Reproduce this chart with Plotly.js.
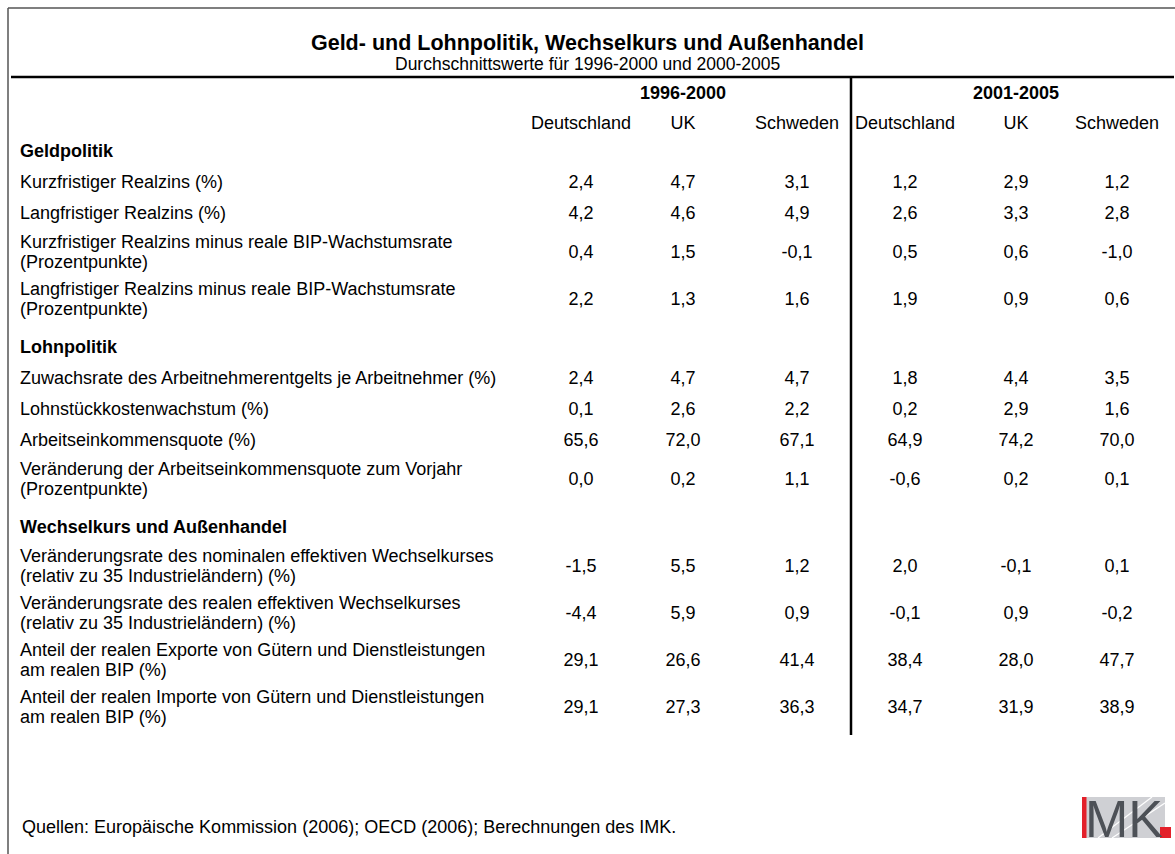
<!DOCTYPE html>
<html>
<head>
<meta charset="utf-8">
<script src="https://cdn.plot.ly/plotly-3.0.1.min.js"></script>
<style>
  html, body { margin: 0; padding: 0; background: #ffffff; }
  #chart { width: 1175px; height: 854px; }
</style>
</head>
<body>
<div id="chart"></div>
<script>
// ---------------- DATA ----------------
const titleText = 'Geld- und Lohnpolitik, Wechselkurs und Außenhandel';
const subtitleText = 'Durchschnittswerte für 1996-2000 und 2000-2005';
const sourceText = 'Quellen: Europäische Kommission (2006); OECD (2006); Berechnungen des IMK.';
const periods = ['1996-2000', '2001-2005'];
const countries = ['Deutschland', 'UK', 'Schweden'];

const rowLabels = [
  'Geldpolitik',
  'Kurzfristiger Realzins (%)',
  'Langfristiger Realzins (%)',
  'Kurzfristiger Realzins minus reale BIP-Wachstumsrate<br>(Prozentpunkte)',
  'Langfristiger Realzins minus reale BIP-Wachstumsrate<br>(Prozentpunkte)',
  'Lohnpolitik',
  'Zuwachsrate des Arbeitnehmerentgelts je Arbeitnehmer (%)',
  'Lohnstückkostenwachstum (%)',
  'Arbeitseinkommensquote (%)',
  'Veränderung der Arbeitseinkommensquote zum Vorjahr<br>(Prozentpunkte)',
  'Wechselkurs und Außenhandel',
  'Veränderungsrate des nominalen effektiven Wechselkurses<br>(relativ zu 35 Industrieländern) (%)',
  'Veränderungsrate des realen effektiven Wechselkurses<br>(relativ zu 35 Industrieländern) (%)',
  'Anteil der realen Exporte von Gütern und Dienstleistungen<br>am realen BIP (%)',
  'Anteil der realen Importe von Gütern und Dienstleistungen<br>am realen BIP (%)'
];

const de1996 = [null, 2.4, 4.2, 0.4, 2.2, null, 2.4, 0.1, 65.6, 0.0, null, -1.5, -4.4, 29.1, 29.1];
const uk1996 = [null, 4.7, 4.6, 1.5, 1.3, null, 4.7, 2.6, 72.0, 0.2, null, 5.5, 5.9, 26.6, 27.3];
const se1996 = [null, 3.1, 4.9, -0.1, 1.6, null, 4.7, 2.2, 67.1, 1.1, null, 1.2, 0.9, 41.4, 36.3];
const de2001 = [null, 1.2, 2.6, 0.5, 1.9, null, 1.8, 0.2, 64.9, -0.6, null, 2.0, -0.1, 38.4, 34.7];
const uk2001 = [null, 2.9, 3.3, 0.6, 0.9, null, 4.4, 2.9, 74.2, 0.2, null, -0.1, 0.9, 28.0, 31.9];
const se2001 = [null, 1.2, 2.8, -1.0, 0.6, null, 3.5, 1.6, 70.0, 0.1, null, 0.1, -0.2, 47.7, 38.9];

// ---------------- LAYOUT CONFIG ----------------
const W = 1175, H = 854;
const FONT = 'Liberation Sans, Arial, Helvetica, sans-serif';
const BODY = 18;
const yOff = 2.5;              // baseline correction for Plotly text
const lineGap = 19.5;          // spacing of two-line labels
const labelX = 20;
const colX = [581, 683, 797, 905, 1016, 1117];
const periodX = [683, 1016];
const periodY = 94, countryY = 124.5;
const firstTop = 134.5, singleH = 31, doubleH = 47, sectionGap = 9;

const isSection = de1996.map(v => v === null);
const rowY = [];
let rowTop = firstTop;
rowLabels.forEach((lab, i) => {
  if (isSection[i] && i > 0) rowTop += sectionGap;
  const h = lab.includes('<br>') ? doubleH : singleH;
  rowY.push(rowTop + h / 2 + yOff);
  rowTop += h;
});

const fmt = v => (v === null ? '' : v.toFixed(1).replace('.', ','));

// split labels into individual lines
const lblX = [], lblY = [], lblT = [];
const secX = [], secY = [], secT = [];
rowLabels.forEach((lab, i) => {
  if (isSection[i]) { secX.push(labelX); secY.push(rowY[i]); secT.push(lab); return; }
  const parts = lab.split('<br>');
  parts.forEach((p, k) => {
    lblX.push(labelX);
    lblY.push(rowY[i] + (k - (parts.length - 1) / 2) * lineGap);
    lblT.push(p);
  });
});

const traces = [];
traces.push({
  type: 'scatter', mode: 'text', hoverinfo: 'skip', showlegend: false,
  x: lblX, y: lblY, text: lblT, textposition: 'middle right',
  textfont: {family: FONT, size: BODY, color: '#000'}
});
traces.push({
  type: 'scatter', mode: 'text', hoverinfo: 'skip', showlegend: false,
  x: secX, y: secY, text: secT, textposition: 'middle right',
  textfont: {family: FONT, size: BODY, color: '#000', weight: 'bold'}
});
[de1996, uk1996, se1996, de2001, uk2001, se2001].forEach((arr, c) => {
  traces.push({
    type: 'scatter', mode: 'text', hoverinfo: 'skip', showlegend: false,
    x: arr.map(v => v === null ? null : colX[c]),
    y: rowY,
    text: arr.map(fmt),
    textposition: 'middle center',
    textfont: {family: FONT, size: BODY, color: '#000'}
  });
});
traces.push({
  type: 'scatter', mode: 'text', hoverinfo: 'skip', showlegend: false,
  x: periodX, y: periods.map(() => periodY), text: periods,
  textposition: 'middle center',
  textfont: {family: FONT, size: BODY, color: '#000', weight: 'bold'}
});
const hdrX = [], hdrT = [];
periods.forEach((p, pi) => countries.forEach((c, ci) => { hdrX.push(colX[pi * 3 + ci]); hdrT.push(c); }));
traces.push({
  type: 'scatter', mode: 'text', hoverinfo: 'skip', showlegend: false,
  x: hdrX, y: hdrT.map(() => countryY), text: hdrT,
  textposition: 'middle center',
  textfont: {family: FONT, size: BODY, color: '#000'}
});

const shapes = [
  {type: 'line', xref: 'x', yref: 'y', x0: 8, x1: W, y0: 8, y1: 8, line: {color: '#555', width: 1.5}},
  {type: 'line', xref: 'x', yref: 'y', x0: 8, x1: 8, y0: 8, y1: H, line: {color: '#555', width: 1.5}},
  {type: 'line', xref: 'x', yref: 'y', x0: 11, x1: 1174, y0: 77, y1: 77, line: {color: '#000', width: 2.5}},
  {type: 'line', xref: 'x', yref: 'y', x0: 851, x1: 851, y0: 77, y1: 735, line: {color: '#000', width: 2.5}},
  {type: 'rect', xref: 'x', yref: 'y', x0: 1086, x1: 1165, y0: 797, y1: 838, fillcolor: '#cfd0d4', line: {width: 0}},
  {type: 'rect', xref: 'x', yref: 'y', x0: 1082, x1: 1086.5, y0: 797, y1: 838, fillcolor: '#e3202a', line: {width: 0}},
  {type: 'line', xref: 'x', yref: 'y', x0: 1098, x1: 1152, y0: 838, y1: 797, line: {color: '#ffffff', width: 1.2}},
  {type: 'line', xref: 'x', yref: 'y', x0: 1112, x1: 1165, y0: 838, y1: 803, line: {color: '#ffffff', width: 1.2}},
  {type: 'rect', xref: 'x', yref: 'y', x0: 1160, x1: 1171, y0: 827, y1: 838, fillcolor: '#e3202a', line: {width: 0}}
];

const annotations = [
  {xref: 'x', yref: 'y', x: 587.5, y: 64, text: subtitleText, showarrow: false,
   xanchor: 'center', yanchor: 'middle', font: {family: FONT, size: 17.5, color: '#000'}},
  {xref: 'x', yref: 'y', x: labelX, y: 827, text: sourceText, showarrow: false,
   xanchor: 'left', yanchor: 'middle', font: {family: FONT, size: BODY, color: '#000'}},
  {xref: 'x', yref: 'y', x: 1124, y: 819, text: 'MK', showarrow: false,
   xanchor: 'center', yanchor: 'middle', font: {family: FONT, size: 52, color: '#4d5157'}}
];

const layout = {
  width: W, height: H,
  margin: {l: 0, r: 0, t: 0, b: 0, pad: 0},
  paper_bgcolor: '#ffffff', plot_bgcolor: '#ffffff',
  title: {text: titleText, x: 0.5, xanchor: 'center', xref: 'paper',
          y: 1 - 42 / H, yanchor: 'middle', yref: 'container',
          font: {family: FONT, size: 21.5, color: '#000', weight: 'bold'}},
  xaxis: {range: [0, W], visible: false, fixedrange: true},
  yaxis: {range: [H, 0], visible: false, fixedrange: true},
  showlegend: false,
  shapes: shapes,
  annotations: annotations,
  hovermode: false
};

Plotly.newPlot('chart', traces, layout, {displayModeBar: false, staticPlot: true});
</script>
</body>
</html>
